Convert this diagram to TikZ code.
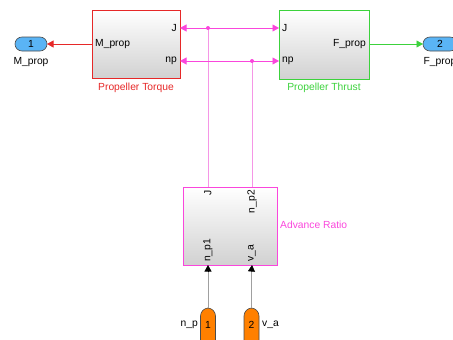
\documentclass[tikz,border=0pt]{standalone}
\usepackage{fontspec}
\setmainfont{Liberation Sans}
\usetikzlibrary{arrows.meta}
\definecolor{torq}{RGB}{230,40,40}
\definecolor{thr}{RGB}{60,210,60}
\definecolor{mag}{RGB}{250,70,220}
\definecolor{magl}{RGB}{245,150,230}
\definecolor{outb}{RGB}{90,180,245}
\definecolor{inor}{RGB}{255,128,0}
\definecolor{sig}{RGB}{160,160,160}
\begin{document}
\begin{tikzpicture}[x=1pt,y=-1pt,
  every node/.style={font=\fontsize{10.3}{12}\selectfont, inner sep=0pt},
  blk/.style={shade, top color=white, bottom color=black!18, line width=0.8pt},
  oport/.style={draw=black!70, fill=outb, rounded corners=7pt, line width=0.6pt},
  iport/.style={draw=black!70, fill=inor, rounded corners=8pt, line width=0.6pt},
  arr/.style={-{Triangle[length=6.5pt,width=7pt]}, line width=0.6pt},
  dot/.style={circle, fill=mag, minimum size=4pt}]
\useasboundingbox (0,0) rectangle (453,340);
% blocks
\draw[blk, draw=torq] (92,10) rectangle (180,78);
\coordinate (tqJ) at (180,28);
\coordinate (tqN) at (180,61);
\coordinate (tqM) at (92,44);
\node[anchor=east] (tqJl) at (177,28) {J};
\node[anchor=east] (tqNl) at (177,61) {np};
\node[anchor=west] (tqMl) at (95,44) {M\_prop};
\node[text=torq] (tqlab) at (136,88) {Propeller Torque};

\draw[blk, draw=thr] (279,10) rectangle (369,79);
\coordinate (thJ) at (279,28);
\coordinate (thN) at (279,61);
\coordinate (thF) at (369,44);
\node[anchor=west] (thJl) at (282,28) {J};
\node[anchor=west] (thNl) at (282,61) {np};
\node[anchor=east] (thFl) at (366,44) {F\_prop};
\node[text=thr] (thlab) at (324,88) {Propeller Thrust};

\draw[blk, draw=mag] (183,187) rectangle (277,265);
\coordinate (arJ) at (208,187);
\coordinate (arN) at (252,187);
\coordinate (arI1) at (208,265);
\coordinate (arI2) at (252,265);
\node[rotate=90, anchor=east] (arJl) at (208,190) {J};
\node[rotate=90, anchor=east] (arNl) at (252,190) {n\_p2};
\node[rotate=90, anchor=west] (arI1l) at (208,262) {n\_p1};
\node[rotate=90, anchor=west] (arI2l) at (252,262) {v\_a};
\node[text=mag, anchor=west] (arlab) at (280,225) {Advance Ratio};

% outports
\draw[oport] (15,37) rectangle (47,51);
\node (o1) at (31,44) {1};
\coordinate (o1e) at (47,44);
\node (o1l) at (31,62) {M\_prop};
\draw[oport] (423,37) rectangle (457,51);
\node (o2) at (440,44) {2};
\coordinate (o2w) at (423,44);
\node (o2l) at (440,62) {F\_prop};

% inports
\draw[iport] (200.5,308) rectangle (215.5,348);
\node (i1) at (208,325) {1};
\coordinate (i1n) at (208,308);
\node[anchor=east] (i1l) at (198,325) {n\_p};
\draw[iport] (244,308) rectangle (259,348);
\node (i2) at (251.5,325) {2};
\coordinate (i2n) at (251.5,308);
\node[anchor=west] (i2l) at (262,325) {v\_a};

% branch points
\coordinate (b1) at (208,28);
\coordinate (b2) at (252,61);

% connectors
\draw[arr, torq] (tqM) -- (o1e);
\draw[arr, thr] (thF) -- (o2w);
\draw[line width=0.8pt, magl] (arJ) -- (b1);
\draw[line width=0.8pt, magl] (arN) -- (b2);
\draw[arr, mag] (b1) -- (tqJ);
\draw[arr, mag] (b1) -- (thJ);
\draw[arr, mag] (b2) -- (tqN);
\draw[arr, mag] (b2) -- (thN);
\draw[line width=0.8pt, sig] (i1n) -- ++(0,-37) coordinate (a1);
\draw[arr, black] (a1) -- (arI1);
\draw[line width=0.8pt, sig] (i2n) -- ++(0,-37) coordinate (a2);
\draw[arr, black] (a2) -- (arI2);
\node[dot] (d1) at (b1) {};
\node[dot] (d2) at (b2) {};
\end{tikzpicture}
\end{document}
